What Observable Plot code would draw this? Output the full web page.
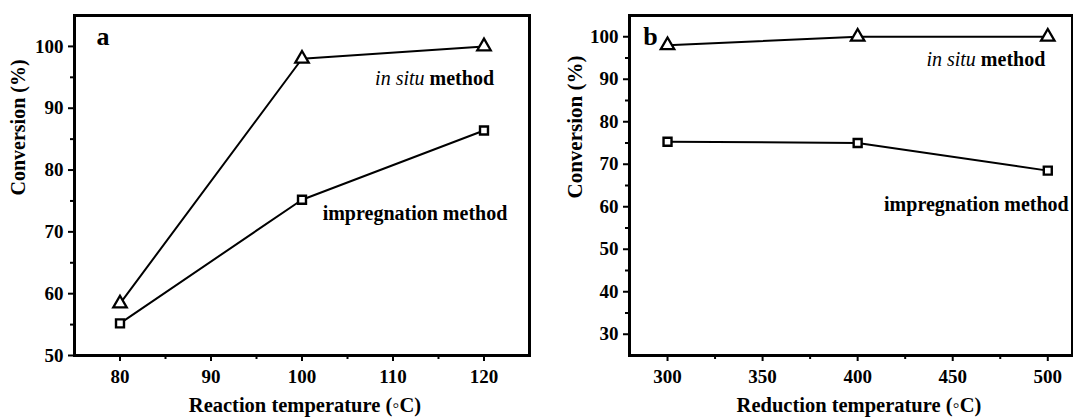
<!DOCTYPE html>
<html><head><meta charset="utf-8">
<script src="https://cdn.jsdelivr.net/npm/d3@7"></script>
<script src="https://cdn.jsdelivr.net/npm/@observablehq/plot@0.6"></script>
<style>
body{margin:0;background:#fff;}
#wrap{display:flex;width:1073px;height:417px;overflow:hidden;background:#fff;}
</style></head><body><div id="wrap"></div>
<script>
// ---- Panel a: conversion vs reaction temperature ----
const reactionTemps = [80, 100, 120];
const reactionInSitu = [58.4, 98.0, 100.0];
const reactionImpreg = [55.2, 75.2, 86.4];
const reactionXTicks = [80, 90, 100, 110, 120];
const reactionXMinor = [85, 95, 105, 115];
const reactionYTicks = [50, 60, 70, 80, 90, 100];
const reactionYMinor = [55, 65, 75, 85, 95];

// ---- Panel b: conversion vs reduction temperature ----
const reductionTemps = [300, 400, 500];
const reductionInSitu = [98.0, 100.0, 100.0];
const reductionImpreg = [75.3, 75.0, 68.5];
const reductionXTicks = [300, 350, 400, 450, 500];
const reductionXMinor = [325, 375, 425, 475];
const reductionYTicks = [30, 40, 50, 60, 70, 80, 90, 100];
const reductionYMinor = [35, 45, 55, 65, 75, 85, 95];

const seriesNames = ["in situ method", "impregnation method"];

function panel(o) {
  const inSituRows = o.temps.map((t, i) => ({t, v: o.inSitu[i]}));
  const impregRows = o.temps.map((t, i) => ({t, v: o.impreg[i]}));
  const fs = {fontFamily: "'Liberation Serif','Times New Roman',serif", fontWeight: "bold"};
  return Plot.plot({
    width: o.width, height: 417,
    marginLeft: o.marginLeft, marginRight: o.marginRight, marginTop: 15, marginBottom: 62,
    style: {fontFamily: "'Liberation Serif','Times New Roman',serif", fontWeight: "bold", color: "black", background: "white", overflow: "visible"},
    x: {domain: o.xDomain},
    y: {domain: o.yDomain},
    marks: [
      Plot.axisX({ticks: o.xMinor, tickSize: 4, strokeWidth: 2, tickFormat: () => "", label: null}),
      Plot.axisY({ticks: o.yMinor, tickSize: 4, strokeWidth: 2, tickFormat: () => "", label: null}),
      Plot.axisX({ticks: o.xTicks, tickSize: 6, strokeWidth: 2, tickPadding: 8, fontSize: 19, label: null}),
      Plot.axisY({ticks: o.yTicks, tickSize: 6, strokeWidth: 2, tickPadding: 5, fontSize: 19, label: null}),
      Plot.line(inSituRows, {x: "t", y: "v", stroke: "black", strokeWidth: 2}),
      Plot.line(impregRows, {x: "t", y: "v", stroke: "black", strokeWidth: 2}),
      Plot.dot(inSituRows, {x: "t", y: "v", symbol: "triangle", r: 5, fill: "white", stroke: "black", strokeWidth: 2.3}),
      Plot.dot(impregRows, {x: "t", y: "v", symbol: "square", r: 4.5, fill: "white", stroke: "black", strokeWidth: 2.4}),
      Plot.frame({stroke: "black", strokeWidth: 3}),
      Plot.text([seriesNames[0]], {x: o.noteInSitu[0], y: o.noteInSitu[1], text: d => d, textAnchor: "end", lineAnchor: "bottom", fontSize: 20, ...fs}),
      Plot.text([seriesNames[1]], {x: o.noteImpreg[0], y: o.noteImpreg[1], text: d => d, textAnchor: "end", lineAnchor: "bottom", fontSize: 20, ...fs}),
      Plot.text([o.letter], {frameAnchor: "top-left", text: d => d, dx: o.letterDx, dy: 29.3, textAnchor: "start", lineAnchor: "bottom", fontSize: 26, ...fs}),
      Plot.text([o.xTitle], {frameAnchor: "bottom", text: d => d, dx: o.xTitleDx, dy: 49.5, lineAnchor: "middle", fontSize: 20.5, ...fs}),
      Plot.text(["Conversion (%)"], {frameAnchor: "left", text: d => d, rotate: -90, dx: o.yTitleDx, dy: o.yTitleDy, lineAnchor: "middle", fontSize: o.yTitleSize, ...fs})
    ]
  });
}

const chartA = panel({
  width: 540, marginLeft: 74, marginRight: 11,
  xDomain: [75, 125], yDomain: [50, 105],
  xTicks: reactionXTicks, xMinor: reactionXMinor, yTicks: reactionYTicks, yMinor: reactionYMinor,
  temps: reactionTemps, inSitu: reactionInSitu, impreg: reactionImpreg,
  noteInSitu: [121.1, 93.8], noteImpreg: [122.56, 71.96],
  letter: "a", letterDx: 22,
  xTitle: "Reaction temperature (\u25E6C)", xTitleDx: 3,
  yTitleDx: -55.5, yTitleDy: 10, yTitleSize: 20
});
const chartB = panel({
  width: 533, marginLeft: 89, marginRight: 1,
  xDomain: [280, 513], yDomain: [25, 105],
  xTicks: reductionXTicks, xMinor: reductionXMinor, yTicks: reductionYTicks, yMinor: reductionYMinor,
  temps: reductionTemps, inSitu: reductionInSitu, impreg: reductionImpreg,
  noteInSitu: [498.7, 93.1], noteImpreg: [511, 59.1],
  letter: "b", letterDx: 13.7,
  xTitle: "Reduction temperature (\u25E6C)", xTitleDx: 8,
  yTitleDx: -54, yTitleDy: 13, yTitleSize: 21
});
const wrap = document.getElementById("wrap");
wrap.append(chartA, chartB);

// mixed styling: italic "in situ" + bold "method"
document.querySelectorAll("svg text").forEach(t => {
  if (t.textContent === "in situ method") {
    const ns = "http://www.w3.org/2000/svg";
    t.textContent = "";
    const a = document.createElementNS(ns, "tspan");
    a.setAttribute("font-style", "italic");
    a.setAttribute("font-weight", "normal");
    a.textContent = "in situ";
    const b = document.createElementNS(ns, "tspan");
    b.textContent = " method";
    t.append(a, b);
  }
});
</script></body></html>
